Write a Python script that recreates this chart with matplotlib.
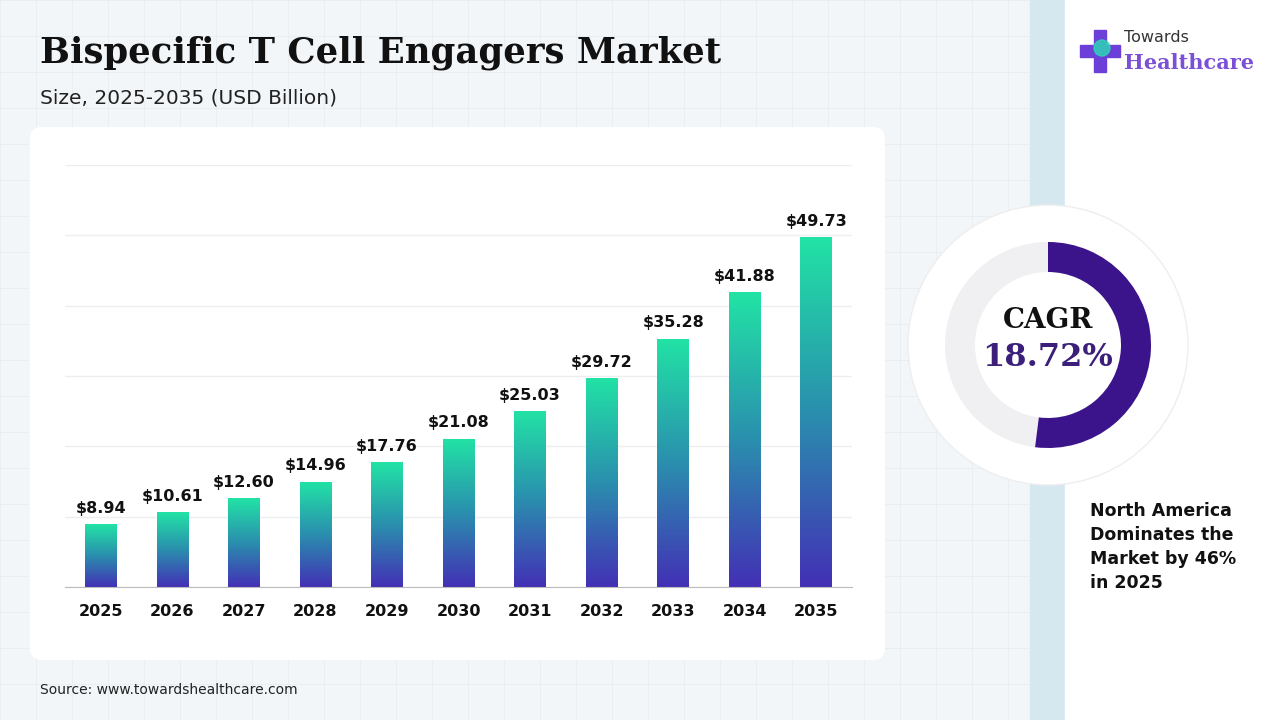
import matplotlib
matplotlib.use("Agg")
import matplotlib.pyplot as plt
import numpy as np
from matplotlib.patches import FancyBboxPatch, Wedge, Circle, Rectangle
from matplotlib.colors import LinearSegmentedColormap

years = ["2025","2026","2027","2028","2029","2030","2031","2032","2033","2034","2035"]
values = [8.94,10.61,12.60,14.96,17.76,21.08,25.03,29.72,35.28,41.88,49.73]
labels = ["$8.94","$10.61","$12.60","$14.96","$17.76","$21.08","$25.03","$29.72","$35.28","$41.88","$49.73"]
cagr = "18.72%"
share = 0.52

W, H = 1280, 720
fig = plt.figure(figsize=(12.8, 7.2), dpi=100)
bg = fig.add_axes([0, 0, 1, 1])
bg.set_xlim(0, W); bg.set_ylim(H, 0); bg.axis("off")
bg.add_patch(Rectangle((0, 0), W, H, color="#f2f6f9", zorder=0))
for x in range(0, 1030, 36):
    bg.plot([x, x], [0, H], color="#e9eef3", lw=0.7, zorder=1)
for y in range(0, H, 36):
    bg.plot([0, 1030], [y, y], color="#e9eef3", lw=0.7, zorder=1)
bg.add_patch(Rectangle((1030, 0), 35, H, color="#d5e7ef", zorder=2))
bg.add_patch(Rectangle((1065, 0), 215, H, color="#ffffff", zorder=2))
bg.add_patch(FancyBboxPatch((30, 127), 855, 533, boxstyle="round,pad=0,rounding_size=12",
                            fc="white", ec="none", zorder=3))
bg.text(40, 53, "Bispecific T Cell Engagers Market", fontsize=25.5, fontweight="bold",
        family="DejaVu Serif", va="center", color="#111111", zorder=5)
bg.text(40, 98, "Size, 2025-2035 (USD Billion)", fontsize=14.5, va="center", color="#222222", zorder=5)
bg.text(40, 690, "Source: www.towardshealthcare.com", fontsize=10, va="center", color="#222222", zorder=5)
# logo
bg.add_patch(Rectangle((1094, 30), 12, 42, color="#6c3fd8", zorder=4))
bg.add_patch(Rectangle((1080, 45), 40, 12, color="#6c3fd8", zorder=4))
bg.add_patch(Circle((1102, 48), 8, color="#2ed3b7", alpha=0.85, zorder=5))
bg.text(1124, 37, "Towards", fontsize=11.5, va="center", color="#333333", zorder=5)
bg.text(1124, 63, "Healthcare", fontsize=15, fontweight="bold", family="DejaVu Serif",
        va="center", color="#7b4fd6", zorder=5)
bg.text(1090, 547, "North America\nDominates the\nMarket by 46%\nin 2025", fontsize=12.5,
        fontweight="bold", va="center", linespacing=1.45, color="#111111", zorder=5)

# donut
bg.add_patch(Circle((1048, 345), 140, fc="white", ec="#eeeeee", lw=1, zorder=4))
bg.add_patch(Circle((1048, 345), 103, fc="#f0eff2", ec="none", zorder=4))
bg.add_patch(Circle((1048, 345), 73, fc="white", ec="none", zorder=4))
bg.add_patch(Wedge((1048, 345), 103, -90, -90 + 360 * share, width=30, fc="#3b138a", ec="none", zorder=5))
bg.text(1048, 320, "CAGR", fontsize=20, fontweight="bold", family="DejaVu Serif",
        ha="center", va="center", color="#111111", zorder=6)
bg.text(1048, 357, cagr, fontsize=23, fontweight="bold", family="DejaVu Serif",
        ha="center", va="center", color="#3b1f7a", zorder=6)

# bar chart
ax = fig.add_axes([65 / W, 1 - 587 / H, (852 - 65) / W, (587 - 165) / H])
ax.set_facecolor("none")
n = len(years)
ax.set_yticks(range(0, 61, 10))
ax.grid(axis="y", color="#eeeeee", lw=1)
ax.set_axisbelow(True)
for s in ["top", "right", "left"]:
    ax.spines[s].set_visible(False)
ax.spines["bottom"].set_color("#bbbbbb")
ax.tick_params(axis="y", left=False, labelleft=False)
ax.tick_params(axis="x", length=0, pad=12)
cmap = LinearSegmentedColormap.from_list("g", ["#4330b5", "#2a8fae", "#22e3a5"])
grad = np.linspace(0, 1, 256).reshape(-1, 1)
bw = 0.44
bars = ax.bar(range(n), values, width=bw, color="none")
for i, (b, v) in enumerate(zip(bars, values)):
    im = ax.imshow(grad, extent=[i - bw / 2, i + bw / 2, 0, v], origin="lower",
                   cmap=cmap, aspect="auto", zorder=2)
    im.set_clip_path(b)
    ax.text(i, v + 1.2, labels[i], ha="center", va="bottom", fontsize=11.5,
            fontweight="bold", color="#111111")
ax.set_xlim(-0.5, n - 0.5)
ax.set_ylim(0, 60)
ax.set_xticks(range(n))
ax.set_xticklabels(years, fontsize=11.5, fontweight="bold", color="#111111")

fig.savefig("out.png", dpi=100)
